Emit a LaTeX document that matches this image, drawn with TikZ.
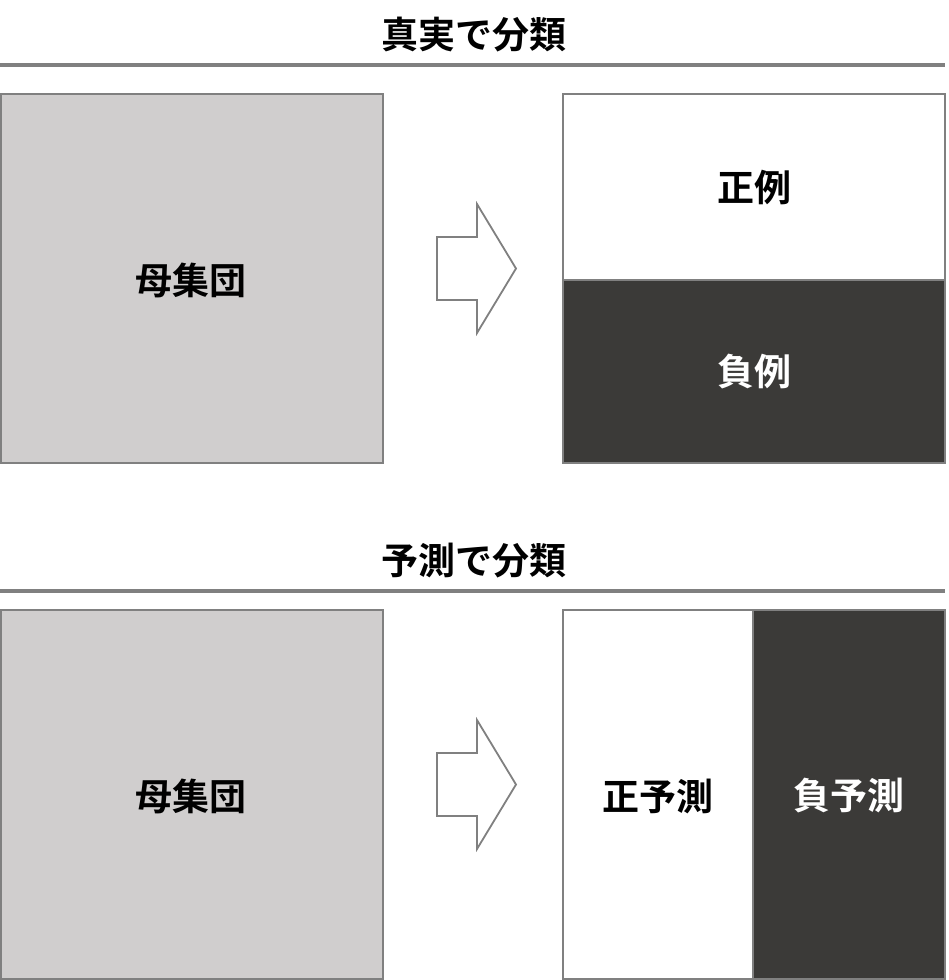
\documentclass[tikz,border=0pt]{standalone}
\usepackage{fontspec}
\setmainfont{Noto Sans CJK JP}[BoldFont={* Bold}]
\usepackage{xcolor}
\usepackage{tikz}
\usetikzlibrary{positioning}
\definecolor{linegray}{HTML}{808080}
\definecolor{popgray}{HTML}{D0CECE}
\definecolor{negdark}{HTML}{3B3A38}

\begin{document}
\begin{tikzpicture}[x=1pt,y=-1pt,
	title/.style={font=\fontsize{37}{42}\selectfont\bfseries},
	label/.style={font=\fontsize{37}{42}\selectfont\bfseries},
	frame/.style={draw=linegray, line width=2pt},
	rule/.style={draw=linegray, line width=3.5pt},
	bigarrow/.style={draw=linegray, line width=1.8pt, fill=white, line join=miter}]
	\useasboundingbox (0,0) rectangle (948,980);
	% true classification
	\node[title] (title1) at (474,35) {真実で分類};
	\draw[rule] (0,65) -- (945,65);
	\draw[frame, fill=popgray] (1,94) rectangle (383,463);
	\node[label] (pop1) at (191,280) {母集団};
	\draw[bigarrow] (437,237) -- (477,237) -- (477,204) -- (516,268.5) -- (477,333) -- (477,300) -- (437,300) -- cycle;
	\draw[frame, fill=white] (563,94) rectangle (945,280);
	\draw[frame, fill=negdark] (563,280) rectangle (945,463);
	\node[label] (pos1) at (754,187) {正例};
	\node[label, text=white] (neg1) at (754,372) {負例};
	% predicted classification
	\node[title] (title2) at (474,561) {予測で分類};
	\draw[rule] (0,591) -- (945,591);
	\draw[frame, fill=popgray] (1,610) rectangle (383,979);
	\node[label] (pop2) at (191,796) {母集団};
	\draw[bigarrow] (437,753) -- (477,753) -- (477,720) -- (516,784.5) -- (477,849) -- (477,816) -- (437,816) -- cycle;
	\draw[frame, fill=white] (563,610) rectangle (753,979);
	\draw[frame, fill=negdark] (753,610) rectangle (945,979);
	\node[label] (pos2) at (658,796) {正予測};
	\node[label, text=white] (neg2) at (849,796) {負予測};
\end{tikzpicture}
\end{document}
